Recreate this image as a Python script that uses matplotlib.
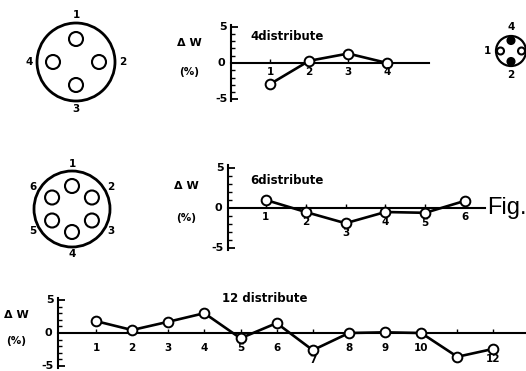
import numpy as np
import matplotlib
matplotlib.use("Agg")
import matplotlib.pyplot as plt
from matplotlib.patches import Circle

W, H = 526, 371

# data
pos4 = [1, 2, 3, 4]
dw4 = [-2.9, 0.3, 1.3, 0.0]
lab4 = ["1", "2", "3", "4"]

pos6 = [1, 2, 3, 4, 5, 6]
dw6 = [1.0, -0.5, -1.9, -0.5, -0.6, 0.9]
lab6 = ["1", "2", "3", "4", "5", "6"]

pos12 = list(range(1, 13))
dw12 = [1.8, 0.45, 1.7, 3.0, -0.8, 1.5, -2.6, 0.0, 0.1, 0.0, -3.6, -2.4]
lab12 = ["1", "2", "3", "4", "5", "6", "7", "8", "9", "10", "", "12"]

# hole angles (deg) for the schematic cross sections
holes4 = [90, 0, 270, 180]
holes6 = [90, 30, -30, -90, 210, 150]

FONT = "DejaVu Sans"

fig = plt.figure(figsize=(W / 100, H / 100), dpi=100)
fig.patch.set_facecolor("white")


def px_axes(left, top, width, height):
    return fig.add_axes([left / W, 1 - (top + height) / H, width / W, height / H])


def panel(left, top, width, height, xlim, pos, vals, labels, title, title_xy,
          below=True, std_off=9):
    ax = px_axes(left, top, width, height)
    ax.set_xlim(*xlim)
    ax.set_ylim(-5.3, 5.3)
    ax.patch.set_alpha(0)
    for s in ("top", "right"):
        ax.spines[s].set_visible(False)
    ax.spines["bottom"].set_position(("data", 0))
    ax.spines["left"].set_position(("data", xlim[0]))
    for s in ("bottom", "left"):
        ax.spines[s].set_linewidth(1.5)
    ax.set_xticks(pos)
    ax.set_xticklabels([])
    ax.tick_params(axis="x", direction="in", length=3, width=1)
    ax.set_yticks([-5, 0, 5])
    ax.set_yticks(np.arange(-5, 6, 1), minor=True)
    ax.set_yticklabels([])
    ax.tick_params(axis="y", which="major", direction="in", length=5, width=1.3)
    ax.tick_params(axis="y", which="minor", direction="in", length=3, width=1)
    ax.plot(pos, vals, color="black", lw=1.9, marker="o", ms=7,
            mfc="white", mec="black", mew=1.4, clip_on=False, zorder=3)
    # category numbers under the zero line
    for p, v, lab in zip(pos, vals, labels):
        x0, y0 = ax.transData.transform((p, 0))
        _, yv = ax.transData.transform((p, v))
        yl = y0 - std_off
        if below:
            yl = min(yl, yv - 10)
        xf, yf = ax.transData.inverted().transform((x0, yl))
        ax.text(xf, yf, lab, ha="center", va="center", fontsize=7.5,
                fontweight="bold", family=FONT, clip_on=False)
    # y-axis numbers and label
    for val, txt, dx in ((5, "5", -8), (0, "0", -10), (-5, "-5", -10)):
        ax.annotate(txt, (xlim[0], val), xytext=(dx, 0), textcoords="offset pixels",
                    ha="center", va="center", fontsize=8, fontweight="bold",
                    family=FONT, annotation_clip=False)
    ax.annotate("\u0394 W", (xlim[0], 2.8), xytext=(-42, 0), textcoords="offset pixels",
                ha="center", va="center", fontsize=8, fontweight="bold",
                family=FONT, annotation_clip=False)
    ax.annotate("(%)", (xlim[0], -1.2), xytext=(-42, 0), textcoords="offset pixels",
                ha="center", va="center", fontsize=7.5, fontweight="bold",
                family=FONT, annotation_clip=False)
    fig.text(title_xy[0] / W, 1 - title_xy[1] / H, title, ha="left", va="center",
             fontsize=8.5, fontweight="bold", family=FONT)
    return ax


panel(231, 24.5, 198, 77, (0, 5.07), pos4, dw4, lab4, "4distribute",
      (250, 36), below=False)
panel(228, 165.5, 257, 85, (0.05, 6.5), pos6, dw6, lab6, "6distribute", (250, 180))
panel(58, 298, 468, 70, (-0.05, 12.9), pos12, dw12, lab12, "12 distribute",
      (222, 298), std_off=15)

fig.text(487 / W, 1 - 208 / H, "Fig.", ha="left", va="center", fontsize=17,
         family="Liberation Sans")

# schematic cross sections on a pixel overlay
ov = fig.add_axes([0, 0, 1, 1])
ov.set_xlim(0, W)
ov.set_ylim(H, 0)
ov.axis("off")
ov.patch.set_alpha(0)


def section(cx, cy, r, angles, hole_r, ring_r, labels, lab_r, lw=2.0, fills=None):
    ov.add_patch(Circle((cx, cy), r, fill=False, lw=lw, ec="black"))
    for k, a in enumerate(angles):
        t = np.deg2rad(a)
        fc = "black" if fills and fills[k] else "white"
        ov.add_patch(Circle((cx + ring_r * np.cos(t), cy - ring_r * np.sin(t)),
                            hole_r, fc=fc, ec="black", lw=1.5))
        if labels[k]:
            ov.text(cx + lab_r * np.cos(t), cy - lab_r * np.sin(t), labels[k],
                    ha="center", va="center", fontsize=7.5, fontweight="bold",
                    family=FONT)


section(76, 62, 39, holes4, 7, 23, ["1", "2", "3", "4"], 47)
section(72, 209, 38, holes6, 7, 23, ["1", "2", "3", "4", "5", "6"], 45)
section(511, 51, 15, holes4, 3.5, 10.5, ["4", "", "2", "1"], 24, lw=1.6,
        fills=[True, False, True, False])

fig.savefig("out.png", dpi=100, facecolor="white")
